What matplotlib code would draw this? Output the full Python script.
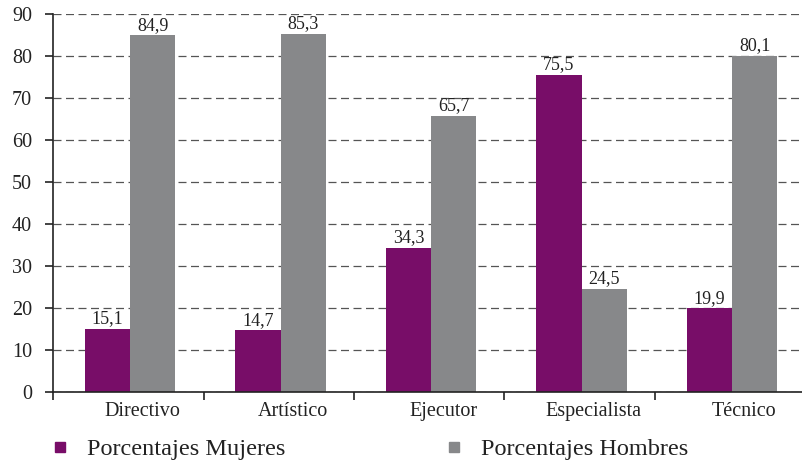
import matplotlib.pyplot as plt
import matplotlib.lines as mlines
from matplotlib.transforms import ScaledTranslation
import numpy as np

categories = ["Directivo", "Artístico", "Ejecutor", "Especialista", "Técnico"]
mujeres = [15.1, 14.7, 34.3, 75.5, 19.9]
hombres = [84.9, 85.3, 65.7, 24.5, 80.1]
series_names = ["Porcentajes Mujeres", "Porcentajes Hombres"]
yticks = [0, 10, 20, 30, 40, 50, 60, 70, 80, 90]

purple = "#780d68"
gray = "#87888a"
ink = "#222222"

plt.rcParams["font.family"] = ["Liberation Serif", "DejaVu Serif"]

fig = plt.figure(figsize=(8.02, 4.65), dpi=100)
ax = fig.add_axes([53 / 802, 73 / 465, 752.5 / 802, 378 / 465])

x = np.arange(len(categories))
w = 0.3
shift = 0.012
ax.bar(x - w / 2 + shift, mujeres, w, color=purple, zorder=3)
ax.bar(x + w / 2 + shift, hombres, w, color=gray, zorder=3)

def fmt(v):
    return f"{v:.1f}".replace(".", ",")

for xs, vals in ((x - w / 2 + shift, mujeres), (x + w / 2 + shift, hombres)):
    for xi, v in zip(xs, vals):
        ax.annotate(fmt(v), (xi, v), xytext=(0, 4), textcoords="offset points",
                    ha="center", va="baseline", fontsize=13, color=ink, zorder=4)

ax.set_xlim(-0.5, len(categories) - 0.5)
ax.set_ylim(0, 90)
ax.set_yticks(yticks)
ax.set_yticklabels([str(t) for t in yticks], fontsize=14.5)
ax.tick_params(axis="y", direction="out", length=6, width=1.2, pad=9, colors=ink)

# category labels, boundary ticks between categories
ax.set_xticks(np.arange(len(categories)) - 0.5)
ax.set_xticklabels([])
ax.set_xticks(x, minor=True)
ax.set_xticklabels(categories, minor=True, fontsize=14.5)
ax.tick_params(axis="x", which="major", direction="out", length=6, width=1.2, color=ink)
ax.tick_params(axis="x", which="minor", length=0, pad=7, labelcolor=ink)
nudge = ScaledTranslation(14 / 100, 0, fig.dpi_scale_trans)
for lab in ax.xaxis.get_minorticklabels():
    lab.set_transform(lab.get_transform() + nudge)

for s in ["top", "right"]:
    ax.spines[s].set_visible(False)
for s in ["left", "bottom"]:
    ax.spines[s].set_linewidth(1.2)
    ax.spines[s].set_color(ink)
    ax.spines[s].set_zorder(5)

ax.yaxis.grid(True, linestyle=(0, (6.4, 3.6)), color="#555555", linewidth=0.9, zorder=0)
ax.set_axisbelow(True)

handles = [
    mlines.Line2D([], [], marker="s", linestyle="none", markersize=7.2, color=purple),
    mlines.Line2D([], [], marker="s", linestyle="none", markersize=7.2, color=gray),
]
fig.legend(handles, series_names, loc="center left", bbox_to_anchor=(45.5 / 802, 1 - 449 / 465),
           ncol=2, frameon=False, fontsize=17.5, handletextpad=0.51, columnspacing=6.35,
           handlelength=1.2, borderpad=0, borderaxespad=0, labelcolor=ink)

fig.savefig("out.png", dpi=100)
